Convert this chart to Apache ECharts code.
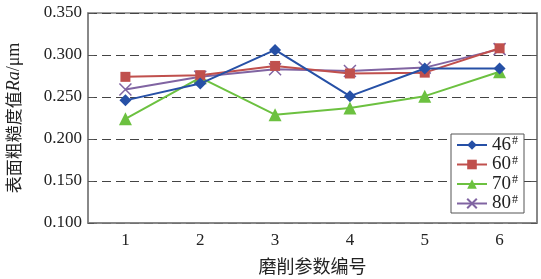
<!DOCTYPE html>
<html>
<head>
<meta charset="utf-8">
<script src="https://cdn.jsdelivr.net/npm/echarts@6/dist/echarts.min.js"></script>
<style>
html,body{margin:0;padding:0;background:#fff;}
#chart{width:541px;height:279px;}
</style>
</head>
<body>
<div id="chart"></div>
<script>
// 磨削参数编号
var categories = ['1', '2', '3', '4', '5', '6'];
var seriesNames = ['46', '60', '70', '80'];
var ra46 = [0.246, 0.266, 0.306, 0.251, 0.284, 0.284];
var ra60 = [0.274, 0.276, 0.287, 0.278, 0.279, 0.308];
var ra70 = [0.224, 0.273, 0.229, 0.237, 0.251, 0.280];
var ra80 = [0.259, 0.274, 0.283, 0.281, 0.285, 0.307];
var yTicks = [0.100, 0.150, 0.200, 0.250, 0.300, 0.350];

var serif = '"Liberation Serif", "Times New Roman", serif';
var cjk = '"Noto Sans CJK SC", sans-serif';
var colors = ['#2650a6', '#c0504d', '#6cc140', '#8064a2'];
var symbols = ['diamond', 'rect', 'triangle', 'path://M0,0L10,10M10,0L0,10'];
var sizes = [12, 10, 13, 12];
var allData = [ra46, ra60, ra70, ra80];

var myChart = echarts.init(document.getElementById('chart'));

var series = [];
for (var i = 0; i < 4; i++) {
    series.push({
        name: seriesNames[i],
        type: 'line',
        data: allData[i],
        symbol: symbols[i],
        symbolSize: sizes[i],
        showAllSymbol: true,
        lineStyle: {width: 2, color: colors[i]},
        itemStyle: i == 3 ? {color: colors[i], borderColor: colors[i], borderWidth: 1.5} : {color: colors[i]},
        z: 10 - i
    });
}

var option = {
    animation: false,
    backgroundColor: '#fff',
    grid: {
        left: 88, right: 4, top: 13, bottom: 56,
        outerBoundsMode: 'none',
        containLabel: false,
        show: true, borderColor: '#808080', borderWidth: 1.5
    },
    legend: {
        orient: 'vertical',
        left: 451, top: 134,
        width: 76,
        padding: [1, 6, 0, 5],
        itemGap: 0,
        itemWidth: 30,
        itemHeight: 12,
        borderColor: '#555',
        borderWidth: 1,
        backgroundColor: '#fff',
        data: seriesNames,
        formatter: function (n) { return '{n|' + n + '}{s|#}'; },
        textStyle: {
            fontFamily: serif, fontSize: 19, color: '#222',
            rich: {
                n: {fontFamily: serif, fontSize: 19, color: '#222', lineHeight: 18},
                s: {fontFamily: serif, fontSize: 12, color: '#222', verticalAlign: 'top', padding: [0, 0, 8, 1]}
            }
        }
    },
    xAxis: {
        type: 'category',
        data: categories,
        boundaryGap: true,
        name: '磨削参数编号',
        nameLocation: 'middle',
        nameGap: 34,
        nameTextStyle: {fontFamily: cjk, fontSize: 18, color: '#222'},
        axisLine: {lineStyle: {color: '#808080', width: 1.5}},
        axisTick: {inside: true, alignWithLabel: true, length: 6, lineStyle: {color: '#555'}},
        axisLabel: {fontFamily: serif, fontSize: 17, color: '#222', margin: 9},
        splitLine: {show: false}
    },
    yAxis: [{
        type: 'value',
        min: 0.1, max: 0.35, interval: 0.05,
        name: '{a|表面粗糙度值}{b|Ra}{c|/μm}',
        nameLocation: 'middle',
        nameGap: 65,
        nameRotate: 90,
        nameTextStyle: {
            rich: {
                a: {fontFamily: cjk, fontSize: 17, color: '#222'},
                b: {fontFamily: serif, fontSize: 18, fontStyle: 'italic', color: '#222'},
                c: {fontFamily: serif, fontSize: 18, color: '#222'}
            }
        },
        axisLine: {show: true, lineStyle: {color: '#808080', width: 1.5}},
        axisTick: {show: true, inside: true, length: 6, lineStyle: {color: '#555'}},
        axisLabel: {
            fontFamily: serif, fontSize: 17, color: '#222', margin: 6,
            formatter: function (v) { return v.toFixed(3); }
        },
        splitLine: {
            show: true,
            lineStyle: {color: '#444', type: [9, 5], width: 1}
        }
    }, {
        type: 'value',
        position: 'right',
        min: 0.1, max: 0.35, interval: 0.05,
        axisLine: {show: true, lineStyle: {color: '#808080', width: 1.5}},
        axisTick: {show: true, inside: true, length: 6, lineStyle: {color: '#555'}},
        axisLabel: {show: false},
        splitLine: {show: false}
    }],
    series: series
};
myChart.setOption(option);
</script>
</body>
</html>
